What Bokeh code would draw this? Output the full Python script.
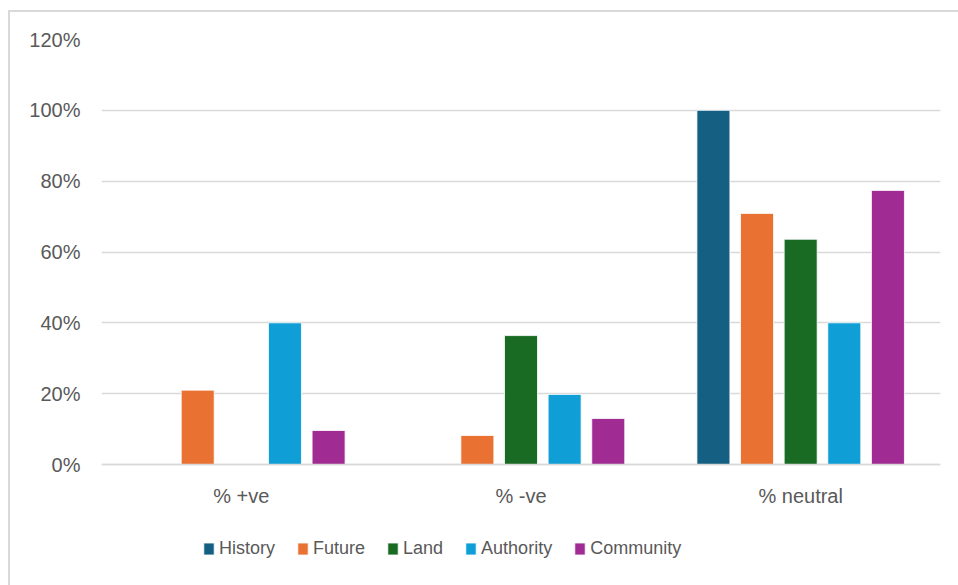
from bokeh.plotting import figure
from bokeh.models import (ColumnDataSource, FactorRange, Range1d, FixedTicker,
                          PrintfTickFormatter, Legend, LegendItem, Span)
from bokeh.core.properties import value
from bokeh.transform import dodge
from bokeh.embed import file_html
from bokeh.resources import INLINE

categories = ["% +ve", "% -ve", "% neutral"]
series = ["History", "Future", "Land", "Authority", "Community"]
history = [0, 0, 100]
future = [21, 8.2, 70.9]
land = [0, 36.4, 63.6]
authority = [40, 19.8, 40]
community = [9.6, 13, 77.4]
colors = ["#156082", "#E97132", "#196B24", "#0F9ED5", "#A02B93"]
y_ticks = [0, 20, 40, 60, 80, 100, 120]

source = ColumnDataSource(dict(cat=categories, History=history, Future=future,
                               Land=land, Authority=authority, Community=community))

FONT = "Liberation Sans"
GRAY = "#595959"

# frame: top at 39px, 0% baseline at 464px, frame extends to the bottom of the page
px_per_unit = 425 / 120.0
y_bottom = -(587 - 464) / px_per_unit

p = figure(width=950, height=575, x_range=FactorRange(*categories, range_padding=0),
           y_range=Range1d(y_bottom, 120), output_backend="svg", toolbar_location=None,
           min_border_left=91, min_border_right=20, min_border_top=27,
           min_border_bottom=0)
p.margin = (10, 0, 0, 8)
p.styles = {"border-left": "2px solid #d9d9d9", "border-top": "2px solid #d9d9d9"}
p.outline_line_color = None
p.background_fill_color = "white"
p.border_fill_color = "white"
p.xaxis.visible = False

offsets = [-0.312, -0.156, 0, 0.156, 0.312]
items = []
for s, c, off in zip(series, colors, offsets):
    r = p.vbar(x=dodge("cat", off, range=p.x_range), top=s, width=0.118, source=source,
               fill_color=c, line_color="white", line_width=0.8)
    items.append(LegendItem(label=s, renderers=[r]))

p.add_layout(Span(location=0, dimension="width", line_color="#d9d9d9", line_width=1.5))

p.text(x=categories, y=[-31 / px_per_unit] * len(categories), text=categories,
       text_align="center", text_baseline="middle", text_font=value(FONT),
       text_font_size="20px", text_color=GRAY)

p.yaxis.ticker = FixedTicker(ticks=y_ticks)
p.yaxis.formatter = PrintfTickFormatter(format="%d%%")
p.yaxis.axis_line_color = None
p.yaxis.major_tick_line_color = None
p.yaxis.minor_tick_line_color = None
p.yaxis.major_label_standoff = 15
p.yaxis.major_label_text_font = FONT
p.yaxis.major_label_text_font_size = "20px"
p.yaxis.major_label_text_color = GRAY

p.xgrid.grid_line_color = None
p.ygrid.grid_line_color = "#d9d9d9"
p.ygrid.grid_line_width = 1.5

legend = Legend(items=items, orientation="horizontal", location=(101, 28),
                glyph_width=13, glyph_height=15, label_standoff=4, spacing=21,
                label_text_font=FONT, label_text_font_size="18px",
                label_text_color=GRAY, border_line_color=None,
                background_fill_alpha=0, padding=0, margin=0)
p.add_layout(legend)

open("out.html", "w").write(file_html(p, INLINE))
